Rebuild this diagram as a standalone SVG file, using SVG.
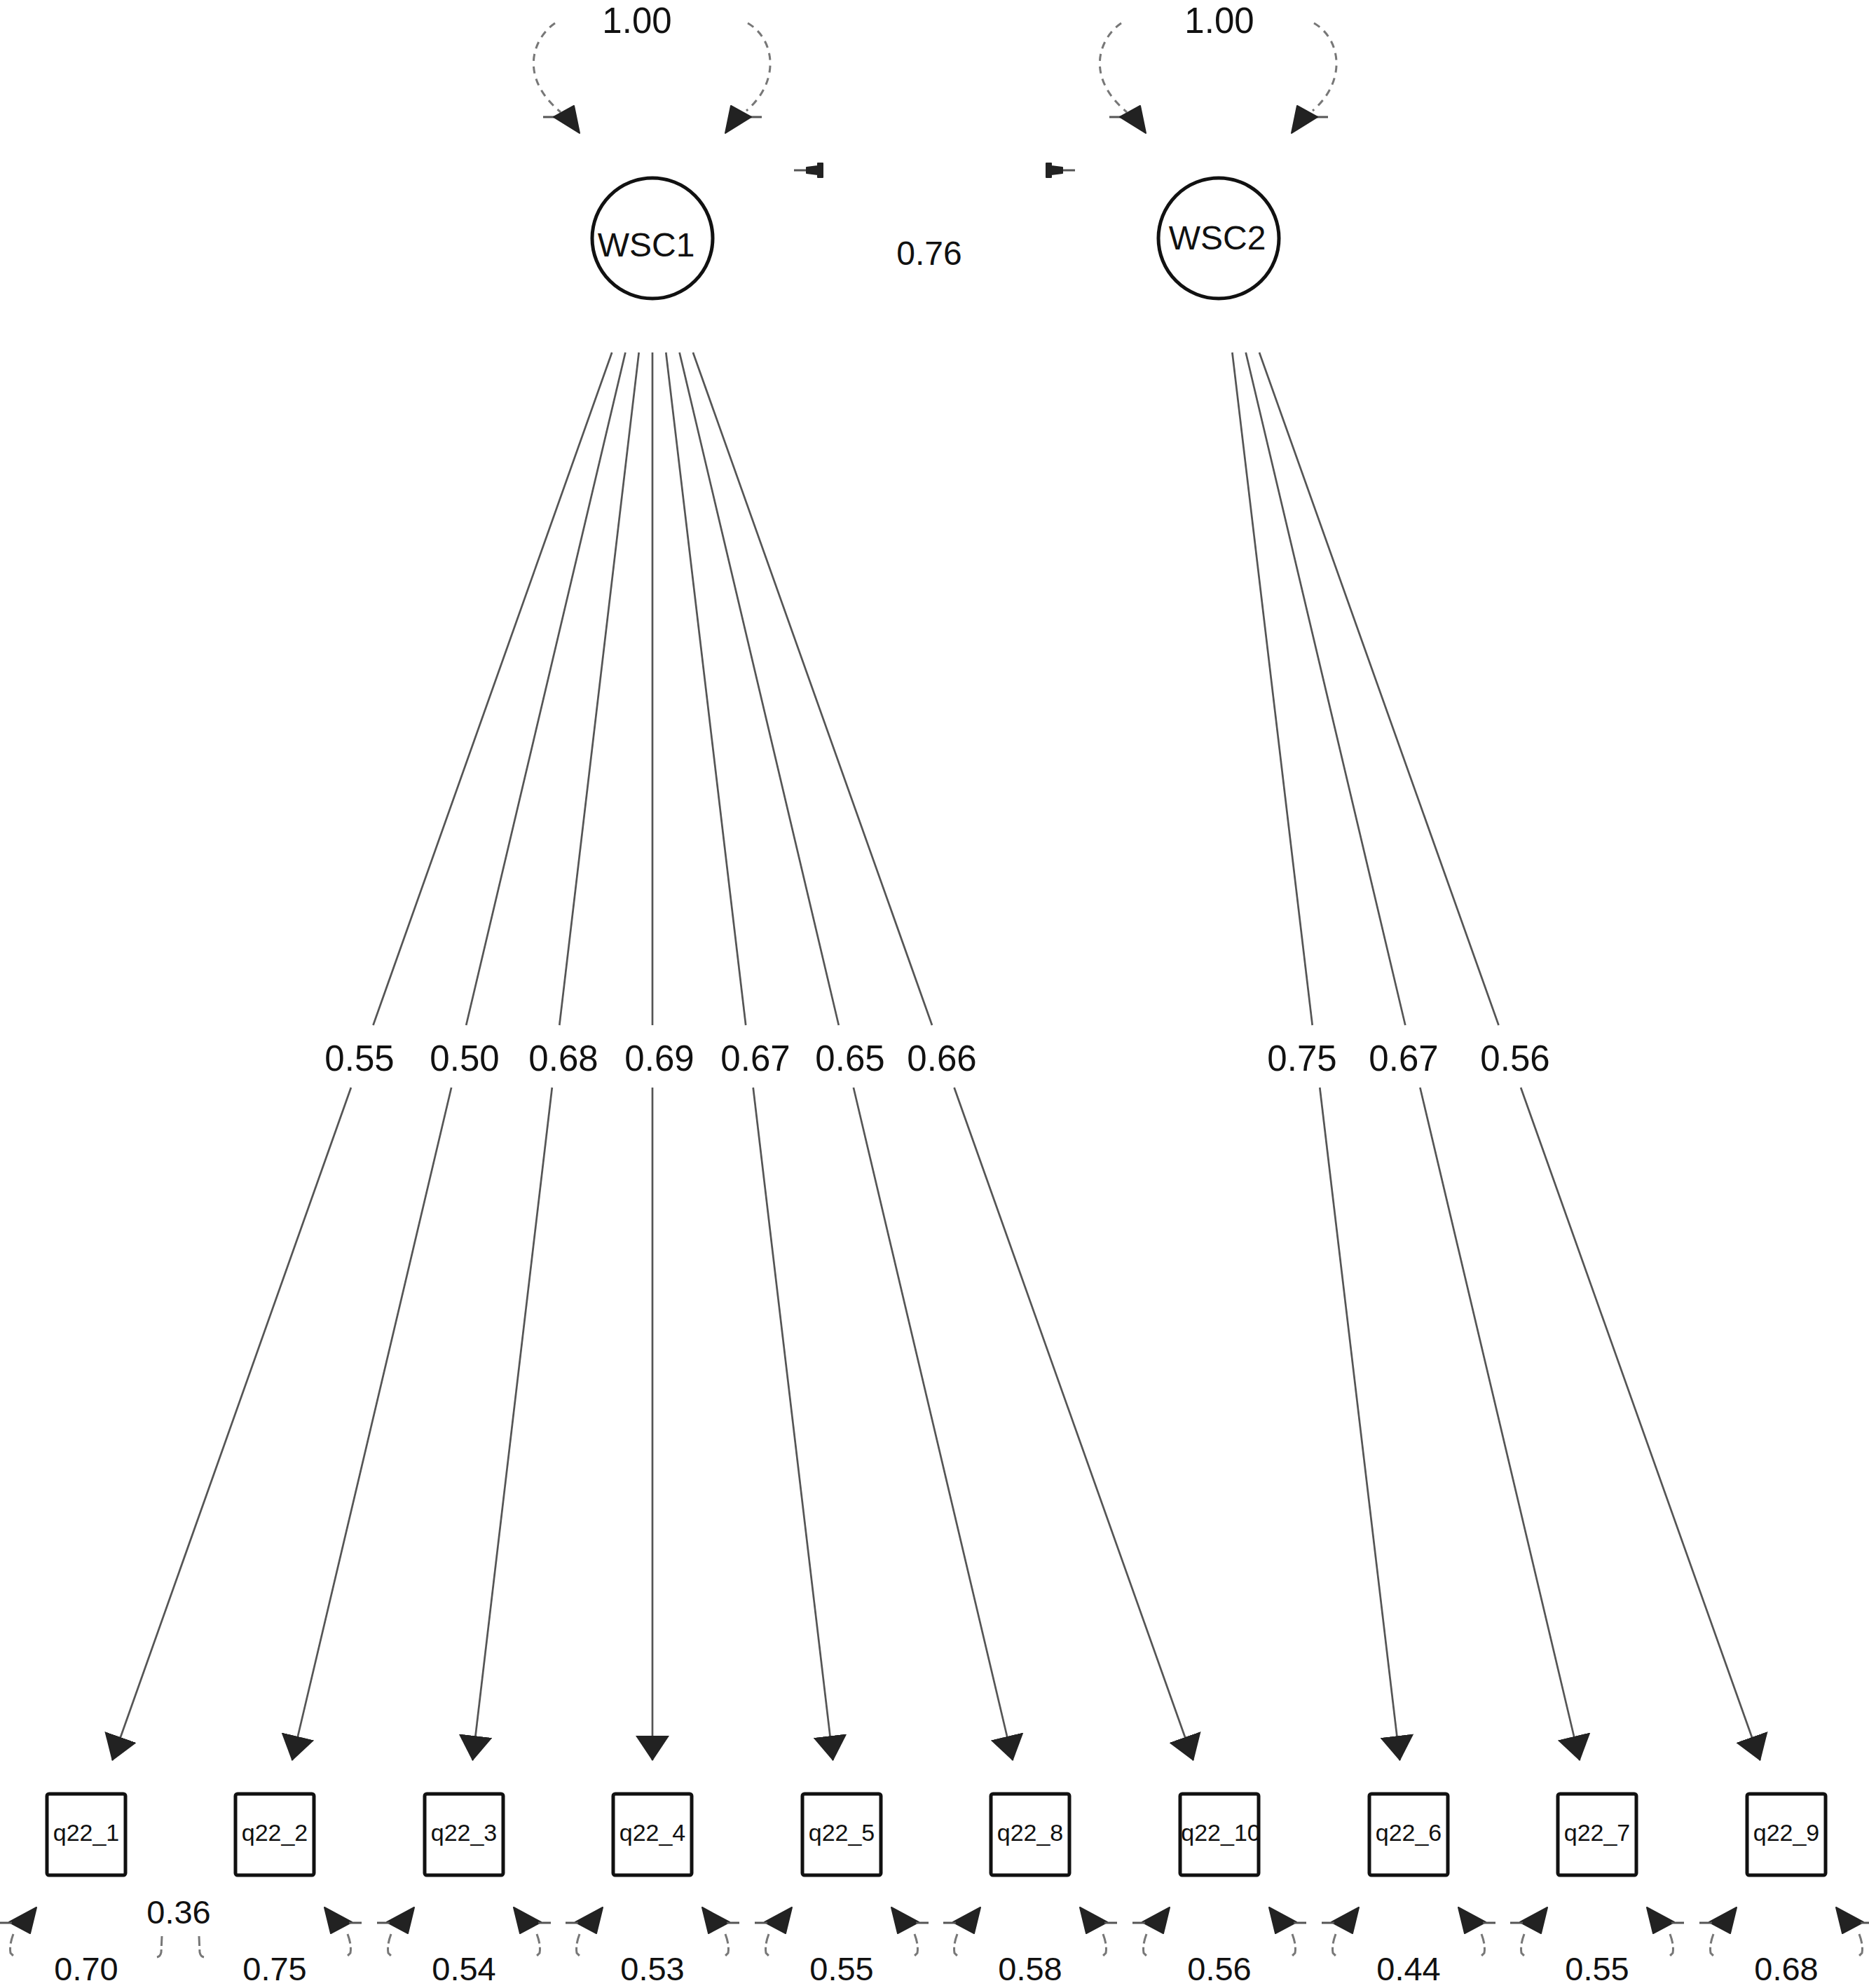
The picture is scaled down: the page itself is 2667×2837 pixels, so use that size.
<svg xmlns="http://www.w3.org/2000/svg" width="2667" height="2837" viewBox="0 0 2667 2837">
<style>
.lbl{font-family:"Liberation Sans",Arial,sans-serif;fill:#111;text-anchor:middle}
.big{font-size:51px}
.res{font-size:47px}
.nodeT{font-size:48px}
.boxT{font-size:34px}
.ld{stroke:#555;stroke-width:2.7;fill:none}
.dash{stroke:#777;stroke-width:3;fill:none;stroke-dasharray:10 8}
.curl{stroke:#777;stroke-width:3;fill:none;stroke-dasharray:14 5}
.head{fill:#222;stroke:#222;stroke-width:2;stroke-linejoin:round}
.stub{stroke:#555;stroke-width:3}
.box{fill:#fff;stroke:#111;stroke-width:5}
.lat{fill:#fff;stroke:#111;stroke-width:5}
</style>
<defs>
<marker id="ah" markerUnits="userSpaceOnUse" markerWidth="36" markerHeight="48" viewBox="0 0 36 48" refX="35" refY="24" orient="auto"><path d="M0,0 L36,24 L0,48 z" fill="#222"/></marker>
<g id="varTop">
<path class="dash" d="M-139,33 C-171,55 -191,110 -131,160"/>
<path class="dash" d="M136,33 C174,55 184,115 134,158"/>
<line class="stub" x1="-156" y1="167" x2="-134" y2="167"/>
<line class="stub" x1="134" y1="167" x2="156" y2="167"/>
<polygon class="head" points="-104,190 -141,167 -112,151"/>
<polygon class="head" points="104,190 141,167 112,151"/>
</g>
<g id="resL">
<polygon class="head" points="-71,2722 -110,2743 -80,2759"/>
<line class="stub" x1="-124" y1="2744" x2="-106" y2="2744"/>
<path class="curl" d="M-104,2760 Q-110,2776 -108,2787 L-102,2793"/>
</g>
<g id="resR">
<polygon class="head" points="71,2722 110,2743 80,2759"/>
<line class="stub" x1="124" y1="2744" x2="106" y2="2744"/>
<path class="curl" d="M104,2760 Q110,2776 108,2787 L102,2793"/>
</g>
</defs>
<rect width="2667" height="2837" fill="#fff"/>

<g id="connectors">
<!-- WSC1 loadings -->
<line class="ld" x1="873.2" y1="503" x2="532.5" y2="1463"/><line class="ld" x1="500.9" y1="1552" x2="160.3" y2="2512" marker-end="url(#ah)"/>
<line class="ld" x1="892.4" y1="503" x2="665.2" y2="1463"/><line class="ld" x1="644.1" y1="1552" x2="416.9" y2="2512" marker-end="url(#ah)"/>
<line class="ld" x1="911.7" y1="503" x2="798.3" y2="1463"/><line class="ld" x1="787.8" y1="1552" x2="674.4" y2="2512" marker-end="url(#ah)"/>
<line class="ld" x1="931" y1="503" x2="931" y2="1463"/><line class="ld" x1="931" y1="1552" x2="931" y2="2512" marker-end="url(#ah)"/>
<line class="ld" x1="950.3" y1="503" x2="1064.2" y2="1463"/><line class="ld" x1="1074.7" y1="1552" x2="1188.6" y2="2512" marker-end="url(#ah)"/>
<line class="ld" x1="969.6" y1="503" x2="1196.8" y2="1463"/><line class="ld" x1="1217.9" y1="1552" x2="1445.1" y2="2512" marker-end="url(#ah)"/>
<line class="ld" x1="988.9" y1="503" x2="1330" y2="1463"/><line class="ld" x1="1361.6" y1="1552" x2="1702.7" y2="2512" marker-end="url(#ah)"/>
<!-- WSC2 loadings -->
<line class="ld" x1="1758.4" y1="503" x2="1872.7" y2="1463"/><line class="ld" x1="1883.3" y1="1552" x2="1997.5" y2="2512" marker-end="url(#ah)"/>
<line class="ld" x1="1777.7" y1="503" x2="2005.3" y2="1463"/><line class="ld" x1="2026.4" y1="1552" x2="2254.1" y2="2512" marker-end="url(#ah)"/>
<line class="ld" x1="1797" y1="503" x2="2138.5" y2="1463"/><line class="ld" x1="2170.1" y1="1552" x2="2511.6" y2="2512" marker-end="url(#ah)"/>
<!-- loading labels -->
<text class="lbl big" x="513" y="1528">0.55</text>
<text class="lbl big" x="663" y="1528">0.50</text>
<text class="lbl big" x="804" y="1528">0.68</text>
<text class="lbl big" x="941" y="1528">0.69</text>
<text class="lbl big" x="1078" y="1528">0.67</text>
<text class="lbl big" x="1213" y="1528">0.65</text>
<text class="lbl big" x="1344" y="1528">0.66</text>
<text class="lbl big" x="1858" y="1528">0.75</text>
<text class="lbl big" x="2003" y="1528">0.67</text>
<text class="lbl big" x="2162" y="1528">0.56</text>
<!-- latent variances -->
<use href="#varTop" transform="translate(931,0)"/>
<use href="#varTop" transform="translate(1739,0)"/>
<text class="lbl big" x="909" y="47">1.00</text>
<text class="lbl big" x="1740" y="47">1.00</text>
<!-- latent covariance -->
<g id="cov-WSC1-WSC2">
<line class="stub" x1="1133" y1="243" x2="1154" y2="243"/>
<polygon class="head" points="1151,239 1167,237 1167,233 1174,233 1174,253 1167,253 1167,249 1151,247"/>
<line class="stub" x1="1534" y1="243" x2="1513" y2="243"/>
<polygon class="head" points="1516,239 1500,237 1500,233 1493,233 1493,253 1500,253 1500,249 1516,247"/>
<text class="lbl nodeT" x="1326" y="378">0.76</text>
</g>
<!-- residual variances -->
<use href="#resL" transform="translate(123,0)"/>
<use href="#resR" transform="translate(392,0)"/>
<use href="#resL" transform="translate(662,0)"/><use href="#resR" transform="translate(662,0)"/>
<use href="#resL" transform="translate(931,0)"/><use href="#resR" transform="translate(931,0)"/>
<use href="#resL" transform="translate(1201,0)"/><use href="#resR" transform="translate(1201,0)"/>
<use href="#resL" transform="translate(1470,0)"/><use href="#resR" transform="translate(1470,0)"/>
<use href="#resL" transform="translate(1740,0)"/><use href="#resR" transform="translate(1740,0)"/>
<use href="#resL" transform="translate(2010,0)"/><use href="#resR" transform="translate(2010,0)"/>
<use href="#resL" transform="translate(2279,0)"/><use href="#resR" transform="translate(2279,0)"/>
<use href="#resL" transform="translate(2549,0)"/><use href="#resR" transform="translate(2549,0)"/>
<text class="lbl res" x="123" y="2826">0.70</text>
<text class="lbl res" x="392" y="2826">0.75</text>
<text class="lbl res" x="662" y="2826">0.54</text>
<text class="lbl res" x="931" y="2826">0.53</text>
<text class="lbl res" x="1201" y="2826">0.55</text>
<text class="lbl res" x="1470" y="2826">0.58</text>
<text class="lbl res" x="1740" y="2826">0.56</text>
<text class="lbl res" x="2010" y="2826">0.44</text>
<text class="lbl res" x="2279" y="2826">0.55</text>
<text class="lbl res" x="2549" y="2826">0.68</text>
<!-- residual covariance q22_1 - q22_2 -->
<g id="cov-q22_1-q22_2">
<path class="curl" d="M231,2763 L230,2786 Q229,2792 224,2793"/>
<path class="curl" d="M284,2763 L285,2786 Q286,2792 291,2793"/>
<text class="lbl res" x="255" y="2745">0.36</text>
</g>
</g>

<g id="WSC1"><circle class="lat" cx="931" cy="340" r="86"/><text class="lbl nodeT" x="922" y="366">WSC1</text></g>
<g id="WSC2"><circle class="lat" cx="1739" cy="340" r="86"/><text class="lbl nodeT" x="1737" y="356">WSC2</text></g>

<g id="q22_1"><rect class="box" x="67" y="2560" width="112" height="116" rx="3"/><text class="lbl boxT" x="123" y="2627">q22_1</text></g>
<g id="q22_2"><rect class="box" x="336" y="2560" width="112" height="116" rx="3"/><text class="lbl boxT" x="392" y="2627">q22_2</text></g>
<g id="q22_3"><rect class="box" x="606" y="2560" width="112" height="116" rx="3"/><text class="lbl boxT" x="662" y="2627">q22_3</text></g>
<g id="q22_4"><rect class="box" x="875" y="2560" width="112" height="116" rx="3"/><text class="lbl boxT" x="931" y="2627">q22_4</text></g>
<g id="q22_5"><rect class="box" x="1145" y="2560" width="112" height="116" rx="3"/><text class="lbl boxT" x="1201" y="2627">q22_5</text></g>
<g id="q22_8"><rect class="box" x="1414" y="2560" width="112" height="116" rx="3"/><text class="lbl boxT" x="1470" y="2627">q22_8</text></g>
<g id="q22_10"><rect class="box" x="1684" y="2560" width="112" height="116" rx="3"/><text class="lbl boxT" x="1742" y="2627">q22_10</text></g>
<g id="q22_6"><rect class="box" x="1954" y="2560" width="112" height="116" rx="3"/><text class="lbl boxT" x="2010" y="2627">q22_6</text></g>
<g id="q22_7"><rect class="box" x="2223" y="2560" width="112" height="116" rx="3"/><text class="lbl boxT" x="2279" y="2627">q22_7</text></g>
<g id="q22_9"><rect class="box" x="2493" y="2560" width="112" height="116" rx="3"/><text class="lbl boxT" x="2549" y="2627">q22_9</text></g>
</svg>
